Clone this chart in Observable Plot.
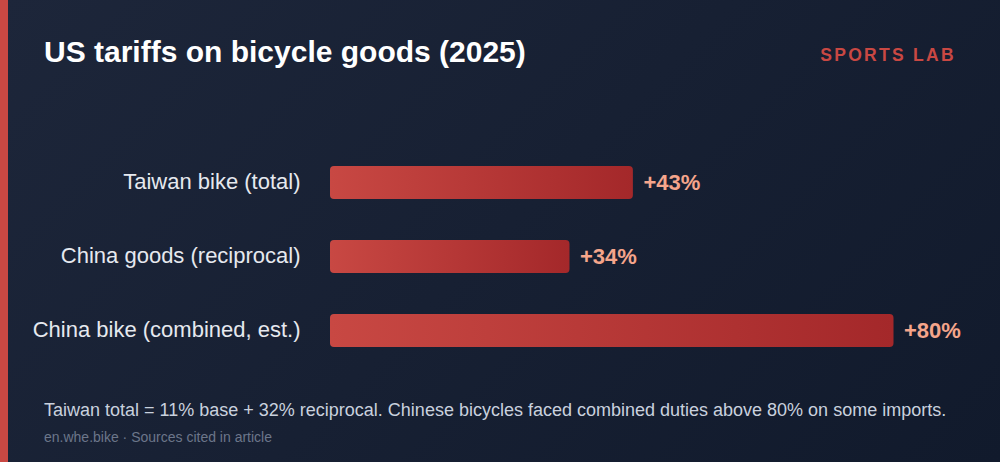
<!DOCTYPE html>
<html>
<head>
<meta charset="utf-8">
<script src="https://cdn.jsdelivr.net/npm/d3@7"></script>
<script src="https://cdn.jsdelivr.net/npm/@observablehq/plot@0.6"></script>
<style>
  html, body { margin: 0; padding: 0; background: #151d2f; }
  #page {
    position: relative; width: 1000px; height: 462px; overflow: hidden;
    background: linear-gradient(135deg, #1d263a 0%, #111a2c 100%);
    font-family: "Liberation Sans", Arial, sans-serif;
  }
  #accent { position: absolute; left: 0; top: 0; width: 8px; height: 462px; background: #c94843; }
  #title { position: absolute; left: 44px; top: 35px; font-size: 30px; font-weight: bold; color: #ffffff; line-height: 34px; white-space: nowrap; }
  #brand { position: absolute; right: 44px; top: 45px; font-size: 17.5px; font-weight: bold; color: #c94843; letter-spacing: 2.3px; line-height: 20px; }
  #chart { position: absolute; left: 0; top: 130px; }
  #note { position: absolute; left: 44px; top: 399px; font-size: 18px; color: #c9d1de; line-height: 22px; white-space: nowrap; }
  #source { position: absolute; left: 44px; top: 429px; font-size: 14px; color: #6c768a; line-height: 16px; white-space: nowrap; }
</style>
</head>
<body>
<div id="page">
  <div id="accent"></div>
  <div id="title">US tariffs on bicycle goods (2025)</div>
  <div id="brand">SPORTS LAB</div>
  <div id="chart"></div>
  <div id="note">Taiwan total = 11% base + 32% reciprocal. Chinese bicycles faced combined duties above 80% on some imports.</div>
  <div id="source">en.whe.bike · Sources cited in article</div>
</div>
<script>
const categories = ["Taiwan bike (total)", "China goods (reciprocal)", "China bike (combined, est.)"];
const values = [43, 34, 80];
const valueLabels = ["+43%", "+34%", "+80%"];

const data = categories.map((c, i) => ({category: c, value: values[i], label: valueLabels[i]}));

const chart = Plot.plot({
  width: 1000,
  height: 240,
  marginLeft: 330,
  marginRight: 106.5,
  marginTop: 15.5,
  marginBottom: 2.5,
  style: {background: "transparent", color: "#e6e9ef", fontFamily: "'Liberation Sans', Arial, sans-serif"},
  x: {domain: [0, 80], axis: null},
  y: {domain: categories, paddingInner: 0.554, paddingOuter: 0.277, label: null},
  marks: [
    Plot.axisY({tickSize: 0, tickPadding: 30, fontSize: 22, label: null, fill: "#e6e9ef", dy: -1.5}),
    Plot.barX(data, {x: "value", y: "category", fill: "url(#barGrad)", rx: 4}),
    Plot.text(data, {x: "value", y: "category", text: "label", dx: 10, textAnchor: "start", fill: "#f5a58b", fontSize: 22, fontWeight: "bold"})
  ]
});

const ns = "http://www.w3.org/2000/svg";
const defs = document.createElementNS(ns, "defs");
defs.innerHTML = '<linearGradient id="barGrad" x1="0" x2="1" y1="0" y2="0"><stop offset="0%" stop-color="#c84843"/><stop offset="100%" stop-color="#a4282a"/></linearGradient>';
chart.insertBefore(defs, chart.firstChild);
document.getElementById("chart").appendChild(chart);
</script>
</body>
</html>
